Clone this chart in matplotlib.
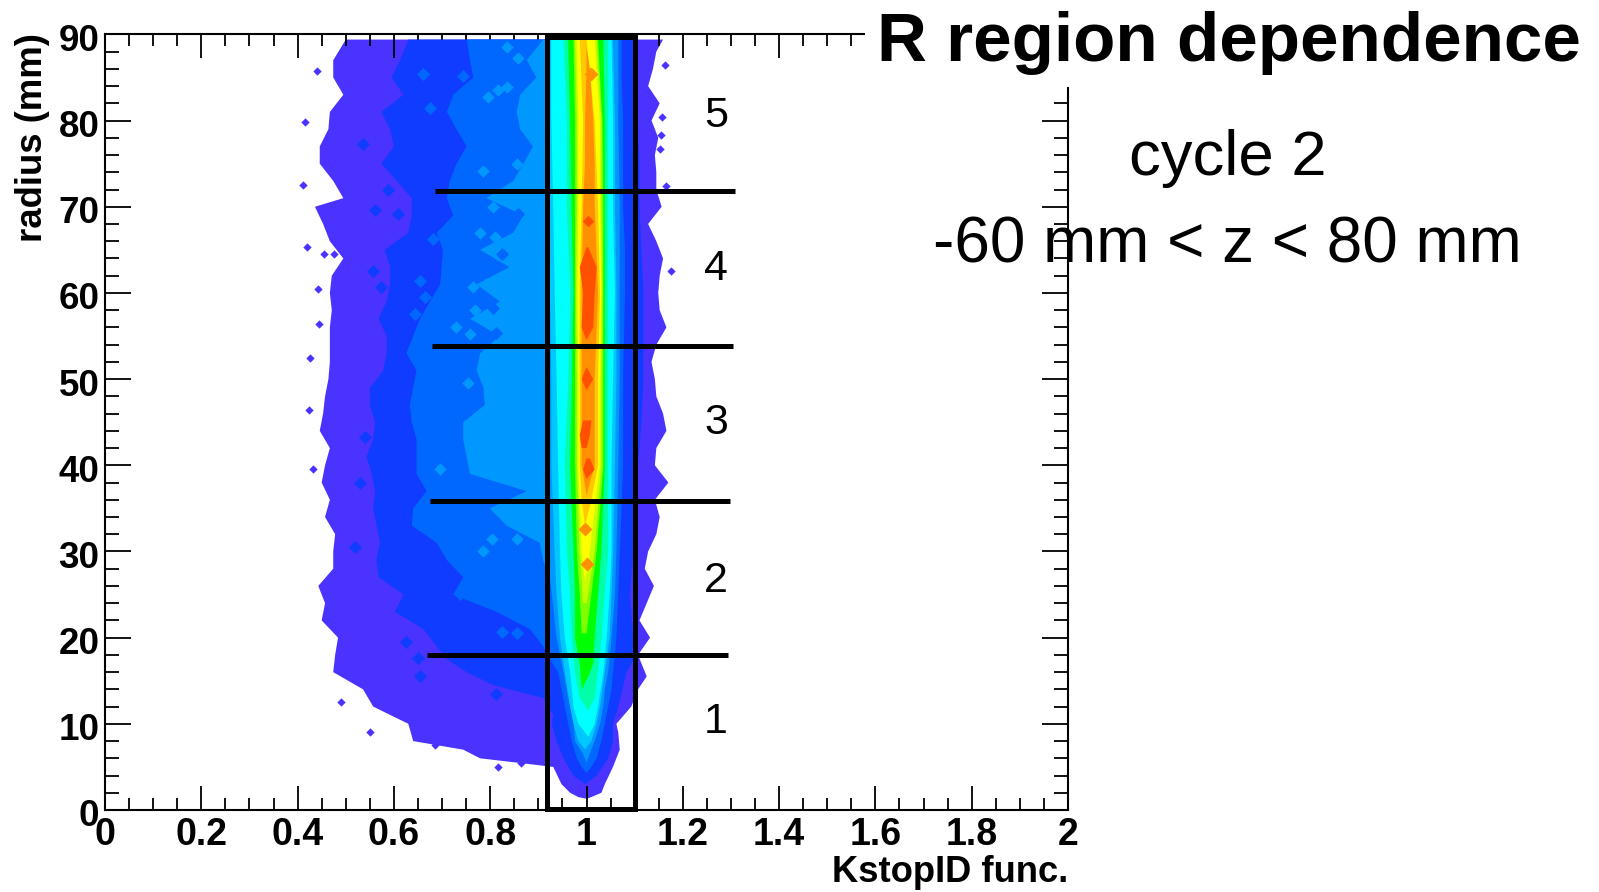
#!/usr/bin/env python3
"""R region dependence of the KstopID function, filled contour bands read off the picture."""

import matplotlib
matplotlib.use("Agg")
import matplotlib.pyplot as plt
from matplotlib.patches import Rectangle
from matplotlib.ticker import MultipleLocator
from matplotlib.transforms import ScaledTranslation

W, H = 1599, 892

plt.rcParams['font.family'] = ['Liberation Sans', 'DejaVu Sans']

# Band edges as (radius, KstopID) pairs, outermost band first
band1_left = [(1.3, 1.0), (1.5, .983), (2, .966), (3, .948), (5, .931), (6, .779), (7, .744), (8, .640), (10, .630),
              (12, .557), (14, .536), (16, .474), (18, .478), (20, .484), (22, .450), (24, .457), (26, .443),
              (28, .474), (30, .474), (32, .478), (34, .457), (36, .467), (38, .450), (40, .457), (42, .467),
              (44, .446), (46, .453), (48, .457), (50, .464), (52, .467), (54, .467), (56, .467), (58, .471),
              (60, .467), (62, .471), (64, .495), (66, .467), (68, .453), (70, .436), (71, .495), (73, .474),
              (75, .446), (77, .446), (79, .464), (81, .467), (83, .495), (85, .474), (87, .474), (89.4, .50)]
band1_right = [(1.3, 1.0), (1.5, 1.01), (2, 1.031), (3, 1.038), (5, 1.055), (7, 1.069), (9, 1.066), (10, 1.062),
               (12, 1.093), (14, 1.107), (15.5, 1.125), (18, 1.107), (20, 1.132), (22, 1.11), (24, 1.125),
               (26, 1.14), (28, 1.121), (30, 1.128), (32, 1.145), (34, 1.152), (36, 1.142), (38, 1.17), (40, 1.142),
               (42, 1.145), (44, 1.166), (46, 1.159), (48, 1.145), (50, 1.142), (52, 1.135), (54, 1.145),
               (56, 1.166), (58, 1.152), (60, 1.149), (62, 1.152), (64, 1.159), (66, 1.145), (68, 1.128),
               (70, 1.156), (72, 1.145), (74, 1.145), (76, 1.142), (78, 1.149), (80, 1.135), (82, 1.152),
               (84, 1.128), (86, 1.138), (88, 1.145), (89.4, 1.159)]

band2_left = [(3, .997), (4, .973), (6, .952), (8, .938), (10, .928), (11, .931), (13, .91), (14.5, .806), (16, .751),
              (17.5, .71), (19, .689), (21, .661), (23, .602), (25, .62), (27, .568), (29, .564), (31, .571),
              (33, .564), (35, .557), (37, .561), (39, .554), (41, .543), (43, .557), (45, .561), (47, .55), (49, .55),
              (51, .578), (53, .585), (55, .585), (57, .568), (59, .585), (61, .592), (63, .592), (65, .581),
              (67, .63), (69, .637), (71, .637), (73, .606), (75, .574), (77, .60), (79, .592), (81, .574), (83, .62),
              (85, .595), (87, .613), (89.4, .63)]
band2_right = [(3, .997), (4, 1.021), (6, 1.045), (8, 1.055), (10, 1.055), (12, 1.066), (16, 1.083), (18, 1.104),
               (20, 1.097), (25, 1.09), (30, 1.097), (35, 1.104), (40, 1.107), (45, 1.114), (50, 1.118), (55, 1.118),
               (60, 1.118), (65, 1.114), (70, 1.11), (75, 1.11), (80, 1.107), (85, 1.104), (89.4, 1.104)]

band3_left = [(4.3, 1.0), (5, .99), (6, .98), (8, .969), (10, .962), (12, .955), (14, .948), (16, .941), (17.5, .924),
              (19, .91), (21, .882), (23, .813), (25, .723), (27, .744), (29, .71), (31, .689), (33, .637), (35, .64),
              (37, .668), (39, .647), (41, .647), (43, .647), (45, .637), (47, .633), (49, .64), (51, .647), (53, .626),
              (55, .64), (57, .654), (59, .675), (61, .696), (65, .702), (67, .689), (69, .723), (71, .71), (73, .716),
              (75, .73), (77, .751), (79, .73), (81, .71), (83, .723), (85, .765), (87, .758), (89.4, .751)]
band3_right = [(4.3, 1.0), (5, 1.01), (6, 1.021), (8, 1.031), (10, 1.038), (12, 1.045), (14, 1.052), (16, 1.055),
               (18, 1.059), (20, 1.062), (25, 1.066), (30, 1.069), (35, 1.073), (40, 1.076), (50, 1.076), (60, 1.08),
               (65, 1.08), (70, 1.076), (80, 1.076), (85, 1.073), (89.4, 1.073)]

band4_left = [(5.5, 1.0), (6.5, .993), (8, .976), (10, .973), (12, .966), (14, .959), (16, .952), (20, .938),
              (24, .93), (27, .924), (29, .91), (31, .903), (33, .834), (35, .799), (37, .876), (39, .758), (41, .751),
              (43, .744), (45, .744), (47, .789), (49, .786), (51, .772), (53, .779), (55, .82), (57, .758), (59, .82),
              (61, .772), (63, .84), (65, .779), (67, .848), (69, .869), (71, .792), (73, .848), (75, .869), (77, .889),
              (79, .862), (81, .855), (83, .862), (85, .896), (87, .876), (89.4, .91)]
band4_right = [(5.5, 1.0), (6, 1.003), (8, 1.017), (10, 1.028), (12, 1.035), (14, 1.038), (16, 1.045), (20, 1.052),
               (25, 1.059), (30, 1.062), (40, 1.066), (50, 1.069), (70, 1.069), (80, 1.066), (89.4, 1.066)]

band5_left = [(7, .997), (8, .983), (10, .973), (12, .966), (16, .955), (20, .945), (25, .938), (30, .934), (40, .927),
              (50, .927), (60, .924), (80, .924), (89.4, .923)]
band5_right = [(7, .997), (8, 1.01), (10, 1.021), (12, 1.028), (16, 1.038), (20, 1.048), (25, 1.052), (30, 1.055),
               (40, 1.059), (50, 1.062), (60, 1.062), (70, 1.059), (80, 1.059), (89.4, 1.055)]

band6_left = [(8.5, 1.004), (10, .983), (12, .973), (16, .966), (20, .955), (25, .948), (30, .945), (40, .941),
              (50, .938), (60, .934), (70, .931), (80, .927), (89.4, .927)]
band6_right = [(8.5, 1.004), (10, 1.017), (12, 1.024), (16, 1.035), (20, 1.042), (25, 1.048), (30, 1.052), (40, 1.052),
               (50, 1.055), (60, 1.059), (70, 1.055), (80, 1.055), (89.4, 1.052)]

band7_left = [(11.5, 1.004), (13, .986), (16, .976), (20, .969), (25, .966), (30, .959), (40, .955), (50, .962),
              (60, .966), (70, .959), (80, .959), (89.4, .952)]
band7_right = [(11.5, 1.004), (13, 1.017), (16, 1.024), (20, 1.031), (25, 1.038), (30, 1.045), (40, 1.045), (70, 1.045),
               (80, 1.045), (89.4, 1.045)]

band8_left = [(14, .99), (17, .986), (20, .976), (25, .976), (30, .973), (40, .966), (50, .97), (60, .973), (70, .969),
              (80, .966), (89.4, .962)]
band8_right = [(14, .99), (15.5, 1.004), (17, 1.014), (20, 1.017), (25, 1.024), (30, 1.031), (40, 1.038), (50, 1.038),
               (60, 1.038), (70, 1.038), (80, 1.038), (89.4, 1.035)]

band9_left = [(20.5, .99), (25, .986), (30, .98), (40, .976), (50, .976), (60, .976), (70, .976), (80, .976), (89.4, .973)]
band9_right = [(20.5, 1.0), (25, 1.01), (30, 1.021), (40, 1.035), (50, 1.035), (60, 1.035), (70, 1.035), (80, 1.033),
               (89.4, 1.024)]

band10_left = [(24, .993), (30, .986), (40, .98), (50, .98), (60, .978), (70, .98), (80, .98), (89.4, .976)]
band10_right = [(24, 1.0), (30, 1.017), (40, 1.031), (50, 1.031), (60, 1.033), (70, 1.031), (80, 1.031), (89.4, 1.021)]

band11_left = [(26.5, .997), (30, .99), (40, .983), (50, .983), (60, .981), (70, .983), (80, .983), (89.4, .98)]
band11_right = [(26.5, .997), (30, 1.007), (40, 1.028), (50, 1.028), (60, 1.031), (70, 1.028), (80, 1.028), (89.4, 1.017)]

band12_left = [(33, .997), (36, .99), (40, .986), (50, .986), (60, .986), (70, .99), (80, .993), (89.4, .986)]
band12_right = [(33, .997), (36, 1.01), (40, 1.024), (50, 1.024), (60, 1.028), (70, 1.024), (80, 1.017), (89.4, 1.0)]

band13_left = [(36.5, 1.0), (40, .99), (50, .99), (60, .99), (70, .993), (75, .997), (80, .997), (86, 1.0), (88.5, 1.0)]
band13_right = [(36.5, 1.0), (40, 1.017), (50, 1.017), (60, 1.024), (70, 1.017), (75, 1.017), (80, 1.014), (86, 1.007),
                (88.5, 1.0)]

# The red core is broken into separate pieces
core1_left = [(54.5, 1.0), (56, .99), (60, .993), (63, .986), (65.3, 1.0)]
core1_right = [(54.5, 1.0), (56, 1.014), (60, 1.017), (63, 1.021), (65.3, 1.004)]
core2_left = [(48.7, 1.0), (50, .99), (51.4, 1.0)]
core2_right = [(48.7, 1.0), (50, 1.014), (51.4, 1.0)]
core3_left = [(42, .99), (43.5, .986), (45.2, .993)]
core3_right = [(42, 1.0), (43.5, 1.007), (45.2, 1.01)]
core4_left = [(38.4, 1.0), (39.5, .993), (40.8, 1.0)]
core4_right = [(38.4, 1.0), (39.5, 1.017), (40.8, 1.007)]

band_colors = ['#4A32FF', '#0F3CFF', '#0068FF', '#0098FF', '#00C8FF', '#00FFFF', '#00FFA8', '#00FF00',
               '#80FF00', '#C8FF00', '#FFFF00', '#FFC800', '#FF9000', '#FF5000', '#FF5000', '#FF5000', '#FF5000']
band_edges = [(band1_left, band1_right), (band2_left, band2_right), (band3_left, band3_right),
              (band4_left, band4_right), (band5_left, band5_right), (band6_left, band6_right),
              (band7_left, band7_right), (band8_left, band8_right), (band9_left, band9_right),
              (band10_left, band10_right), (band11_left, band11_right), (band12_left, band12_right),
              (band13_left, band13_right), (core1_left, core1_right), (core2_left, core2_right),
              (core3_left, core3_right), (core4_left, core4_right)]

# Stray specks of the lowest band outside the main body
specks_x = [.415, .441, .412, .419, .455, .476, .442, .445, .426, .424, 1.163, 1.156, 1.154, 1.152, 1.165, 1.175,
            .433, .491, .865, .817, .685, .55]
specks_r = [79.8, 85.8, 72.5, 65.3, 64.5, 64.5, 60.5, 56.4, 52.4, 46.4, 86.4, 80.4, 78.3, 76.7, 72.4, 62.6,
            39.6, 12.5, 5.4, 5.0, 7.5, 9.0]

# Small islands of one band sitting inside its neighbour
blue_x = [.536, .557, .561, .588, .609, .574, .54, .53, .519, .626, .651, .654, .813]
blue_r = [77.3, 62.6, 69.6, 71.9, 69.2, 60.7, 43.3, 37.9, 30.5, 19.5, 17.6, 15.6, 13.5]
mid_x = [.661, .744, .675, .682, .716, .654, .644, .665, .661, .737, .792, .824, .856,
         .834, .792, .824, .858, .806, .813]
mid_r = [85.4, 85.2, 81.5, 66.3, 65.3, 61.4, 57.6, 59.5, 55.6, 25.1, 24.7, 20.6, 20.5,
         80.0, 69.6, 64.5, 69.2, 58.3, 55.4]
light_x = [.834, .858, .817, .796, .834, .786, .855, .806, .81, .779, .765, .792, .768, .73, .758, .754,
           .803, .855, .696, .786]
light_r = [88.5, 87.3, 83.5, 82.7, 83.9, 74.2, 75.0, 70.0, 66.5, 66.9, 60.7, 61.0, 58.0, 56.0, 55.2, 49.5,
           31.5, 31.5, 39.6, 30.1]
orange_x = [.997, 1.0, 1.01]
orange_r = [32.6, 28.6, 85.4]
red_x = [1.004]
red_r = [68.4]

# Regions drawn over the contours
box_x = [.917, 1.10]
box_r = [0.1, 89.75]
cut_r = [71.8, 53.9, 35.9, 18.0]
cut_start = [.685, .679, .674, .668]
cut_end = [1.309, 1.304, 1.298, 1.294]
region_labels = ['5', '4', '3', '2', '1']
region_r = [80.5, 62.8, 44.9, 26.6, 10.2]

x_ticks = [0, .2, .4, .6, .8, 1, 1.2, 1.4, 1.6, 1.8, 2]
x_tick_labels = ['0', '0.2', '0.4', '0.6', '0.8', '1', '1.2', '1.4', '1.6', '1.8', '2']
y_ticks = [0, 10, 20, 30, 40, 50, 60, 70, 80, 90]

fig = plt.figure(figsize=(W / 100, H / 100), dpi=100)
ax = fig.add_axes([105 / W, 1 - 810 / H, 963 / W, (810 - 34.4) / H])

# Draw the contour bands from the outside in
for i, (color, (left, right)) in enumerate(zip(band_colors, band_edges)):
    poly = [(x, r) for r, x in left] + [(x, r) for r, x in reversed(right)]
    ax.fill([p[0] for p in poly], [p[1] for p in poly], color=color, lw=0, zorder=i + 1)
    if i == 3:
        ax.scatter(blue_x, blue_r, marker='D', s=45, color=band_colors[1], lw=0, zorder=4.5)
        ax.scatter(mid_x, mid_r, marker='D', s=45, color=band_colors[2], lw=0, zorder=4.6)
        ax.scatter(light_x, light_r, marker='D', s=40, color=band_colors[3], lw=0, zorder=4.7)
ax.scatter(specks_x, specks_r, marker='D', s=18, color=band_colors[0], lw=0, zorder=1)
ax.scatter(orange_x, orange_r, marker='D', s=50, color=band_colors[12], lw=0, zorder=20)
ax.scatter(red_x, red_r, marker='D', s=35, color=band_colors[13], lw=0, zorder=20)

ax.set_xlim(0, 2)
ax.set_ylim(0, 90)
ax.set_xticks(x_ticks)
ax.set_xticklabels(x_tick_labels, fontsize=27, fontweight='bold')
ax.set_yticks(y_ticks)
ax.set_yticklabels([str(v) for v in y_ticks], fontsize=26.5, fontweight='bold')
ax.xaxis.set_minor_locator(MultipleLocator(.05))
ax.yaxis.set_minor_locator(MultipleLocator(2))
ax.tick_params(which='major', axis='x', direction='in', length=17, width=1.3, top=True, pad=5)
ax.tick_params(which='minor', axis='x', direction='in', length=8.5, width=1.3, top=True)
ax.tick_params(which='major', axis='y', direction='in', length=19, width=1.3, right=True, pad=4)
ax.tick_params(which='minor', axis='y', direction='in', length=10, width=1.3, right=True)
for spine in ax.spines.values():
    spine.set_linewidth(1.5)

# ROOT puts the y labels a little below their ticks
shift = ScaledTranslation(0, -3 / 100, fig.dpi_scale_trans)
for lab in ax.get_yticklabels():
    lab.set_transform(lab.get_transform() + shift)

# Selection box and the cuts between the R regions
ax.add_patch(Rectangle((box_x[0], box_r[0]), box_x[1] - box_x[0], box_r[1] - box_r[0], fill=False,
                       ec='black', lw=3.6, clip_on=False, zorder=30))
for r, x0, x1 in zip(cut_r, cut_start, cut_end):
    ax.plot([x0, x1], [r, r], color='black', lw=3.6, solid_capstyle='butt', zorder=30)
for lab, r in zip(region_labels, region_r):
    ax.text(1.269, r, lab, fontsize=31, ha='center', va='center', zorder=31)

# The title box hides the top right corner of the frame
fig.add_artist(Rectangle((865 / W, 1 - 87 / H), 1 - 865 / W, 87 / H, transform=fig.transFigure,
                         fc='white', ec='none', zorder=2))


def fig_text(x, y, s, **kw):
    fig.text(x / W, 1 - y / H, s, zorder=4, **kw)


fig_text(1068, 872, 'KstopID func.', fontsize=26.2, fontweight='bold', ha='right', va='center')
fig_text(33, 138, 'radius (mm)', fontsize=26.3, fontweight='bold', rotation=90, ha='center', va='center')
fig_text(877, 61, 'R region dependence', fontsize=49.8, fontweight='bold', ha='left', va='baseline')
fig_text(1129, 175, 'cycle 2', fontsize=45.6, ha='left', va='baseline')
fig_text(933, 262, '-60 mm < z < 80 mm', fontsize=46, ha='left', va='baseline')

fig.savefig('out.png', dpi=100)
